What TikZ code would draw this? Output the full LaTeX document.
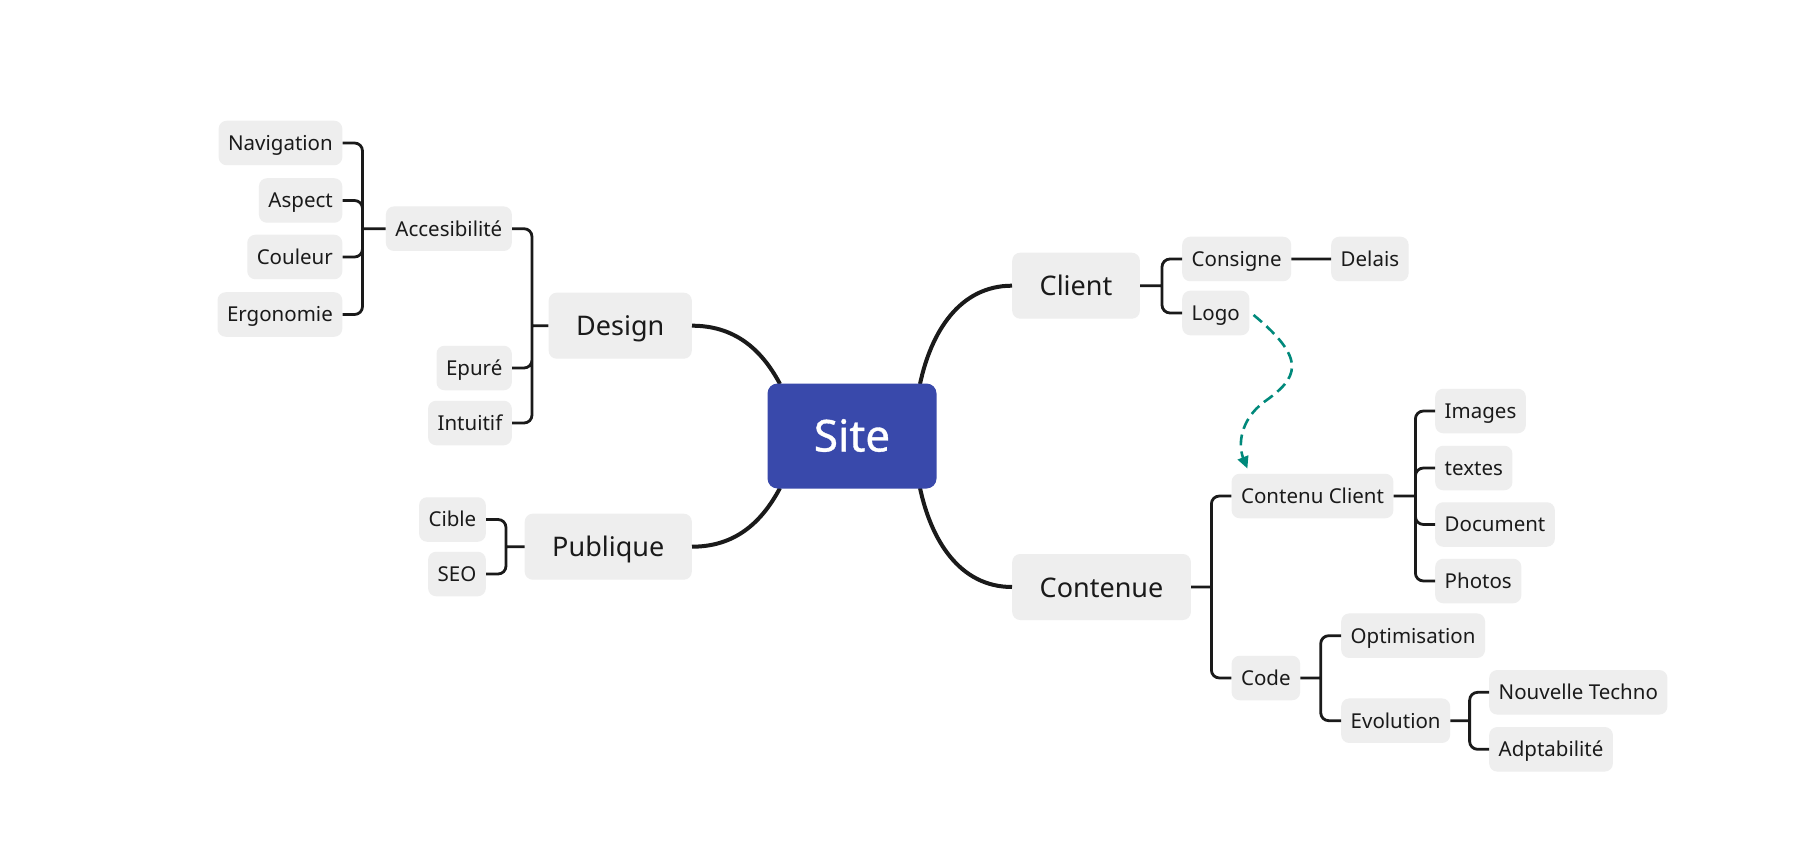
\documentclass[tikz,border=0pt]{standalone}
\usepackage{fontspec}
\setmainfont{Noto Sans}
\usetikzlibrary{arrows.meta}
\definecolor{ink}{HTML}{1A1A1A}
\definecolor{boxgray}{HTML}{EEEEEE}
\definecolor{siteblue}{HTML}{3949AB}
\definecolor{linkteal}{HTML}{00897B}
\begin{document}
\begin{tikzpicture}[x=1pt,y=-1pt,
		topic/.style={fill=boxgray,rounded corners=8pt,text=ink,font=\fontsize{20.5}{25}\selectfont,
			inner xsep=9.5pt,inner ysep=0pt,minimum height=44.5pt,text height=16pt,text depth=1.3pt},
		main/.style={topic,font=\fontsize{27}{32}\selectfont,inner xsep=27.5pt,minimum height=66pt,text height=22pt,text depth=2pt},
		root/.style={fill=siteblue,rounded corners=10pt,text=white,font=\fontsize{44}{50}\selectfont\addfontfeature{FakeBold=0.8},
			minimum width=169pt,minimum height=105pt,text height=33pt,text depth=2pt,inner sep=0pt},
		branch/.style={draw=ink,line width=4pt},
		twig/.style={draw=ink,line width=2.8pt,rounded corners=8pt},
		link/.style={draw=linkteal,line width=2.6pt,dash pattern=on 11pt off 6pt,-{Triangle[length=12pt,width=11pt]}}]
	\fill[white](0,0)rectangle(1807,842);
	\useasboundingbox(0,0)rectangle(1807,842);
	\node[main,anchor=east](design)at(692,325.7){Design};
	\node[main,anchor=east](publique)at(692,546.7){Publique};
	\node[main,anchor=west](client)at(1012,285.7){Client};
	\node[main,anchor=west](contenue)at(1012,587){Contenue};
	\coordinate(siteNW)at(780,384);
	\coordinate(siteNE)at(920,384);
	\coordinate(siteSW)at(780,488);
	\coordinate(siteSE)at(920,488);
	\draw[branch](design.east)to[out=0,in=118](siteNW)
		(siteNE)to[out=78,in=180](client.west)
		(publique.east)to[out=0,in=-118](siteSW)
		(siteSE)to[out=-78,in=180](contenue.west);
	\node[root](site)at(852,436){Site};
	\node[topic,anchor=east](acces)at(512,228.7){Accesibilité};
	\node[topic,anchor=east](epure)at(512,368){Epuré};
	\node[topic,anchor=east](intuitif)at(512,423){Intuitif};
	\node[topic,anchor=east](navigation)at(342.5,143){Navigation};
	\node[topic,anchor=east](aspect)at(342.5,200.5){Aspect};
	\node[topic,anchor=east](couleur)at(342.5,257){Couleur};
	\node[topic,anchor=east](ergonomie)at(342.5,314.5){Ergonomie};
	\node[topic,anchor=east](cible)at(486,519.5){Cible};
	\node[topic,anchor=east](seo)at(486,574){SEO};
	\node[topic,anchor=west](consigne)at(1182,259){Consigne};
	\node[topic,anchor=west](delais)at(1331,259){Delais};
	\node[topic,anchor=west](logo)at(1182,313){Logo};
	\node[topic,anchor=west](contclient)at(1231.4,496){Contenu Client};
	\node[topic,anchor=west](code)at(1231.4,678){Code};
	\node[topic,anchor=west](images)at(1435,411){Images};
	\node[topic,anchor=west](textes)at(1435,468){textes};
	\node[topic,anchor=west](document)at(1435,524.5){Document};
	\node[topic,anchor=west](photos)at(1435,581){Photos};
	\node[topic,anchor=west](optim)at(1341,635.7){Optimisation};
	\node[topic,anchor=west](evolution)at(1341,720.7){Evolution};
	\node[topic,anchor=west](techno)at(1489,692.3){Nouvelle Techno};
	\node[topic,anchor=west](adapt)at(1489,749.3){Adptabilité};
	\coordinate(jdesign)at(532,325.7);
	\coordinate(jacces)at(362.5,228.7);
	\coordinate(jpublique)at(506,546.7);
	\coordinate(jclient)at(1162,285.7);
	\coordinate(jcontenue)at(1211.4,587);
	\coordinate(jcontclient)at(1415.4,496);
	\coordinate(jcode)at(1320.7,678);
	\coordinate(jevolution)at(1469.6,720.7);
	\draw[twig](design.west)--(jdesign)
		(jdesign)|-(acces.east) (jdesign)|-(epure.east) (jdesign)|-(intuitif.east);
	\draw[twig](acces.west)--(jacces)
		(jacces)|-(navigation.east) (jacces)|-(aspect.east) (jacces)|-(couleur.east) (jacces)|-(ergonomie.east);
	\draw[twig](publique.west)--(jpublique)
		(jpublique)|-(cible.east) (jpublique)|-(seo.east);
	\draw[twig](client.east)--(jclient)
		(jclient)|-(consigne.west) (jclient)|-(logo.west)
		(consigne.east)--(delais.west);
	\draw[twig](contenue.east)--(jcontenue)
		(jcontenue)|-(contclient.west) (jcontenue)|-(code.west);
	\draw[twig](contclient.east)--(jcontclient)
		(jcontclient)|-(images.west) (jcontclient)|-(textes.west) (jcontclient)|-(document.west) (jcontclient)|-(photos.west);
	\draw[twig](code.east)--(jcode)
		(jcode)|-(optim.west) (jcode)|-(evolution.west);
	\draw[twig](evolution.east)--(jevolution)
		(jevolution)|-(techno.west) (jevolution)|-(adapt.west);
	\draw[link]([xshift=4pt,yshift=-2pt]logo.east)..controls(1308,360)and(1298,378)..(1264,402)
		..controls(1240,420)and(1238,445)..([xshift=16pt,yshift=5pt]contclient.north west);
\end{tikzpicture}
\end{document}
